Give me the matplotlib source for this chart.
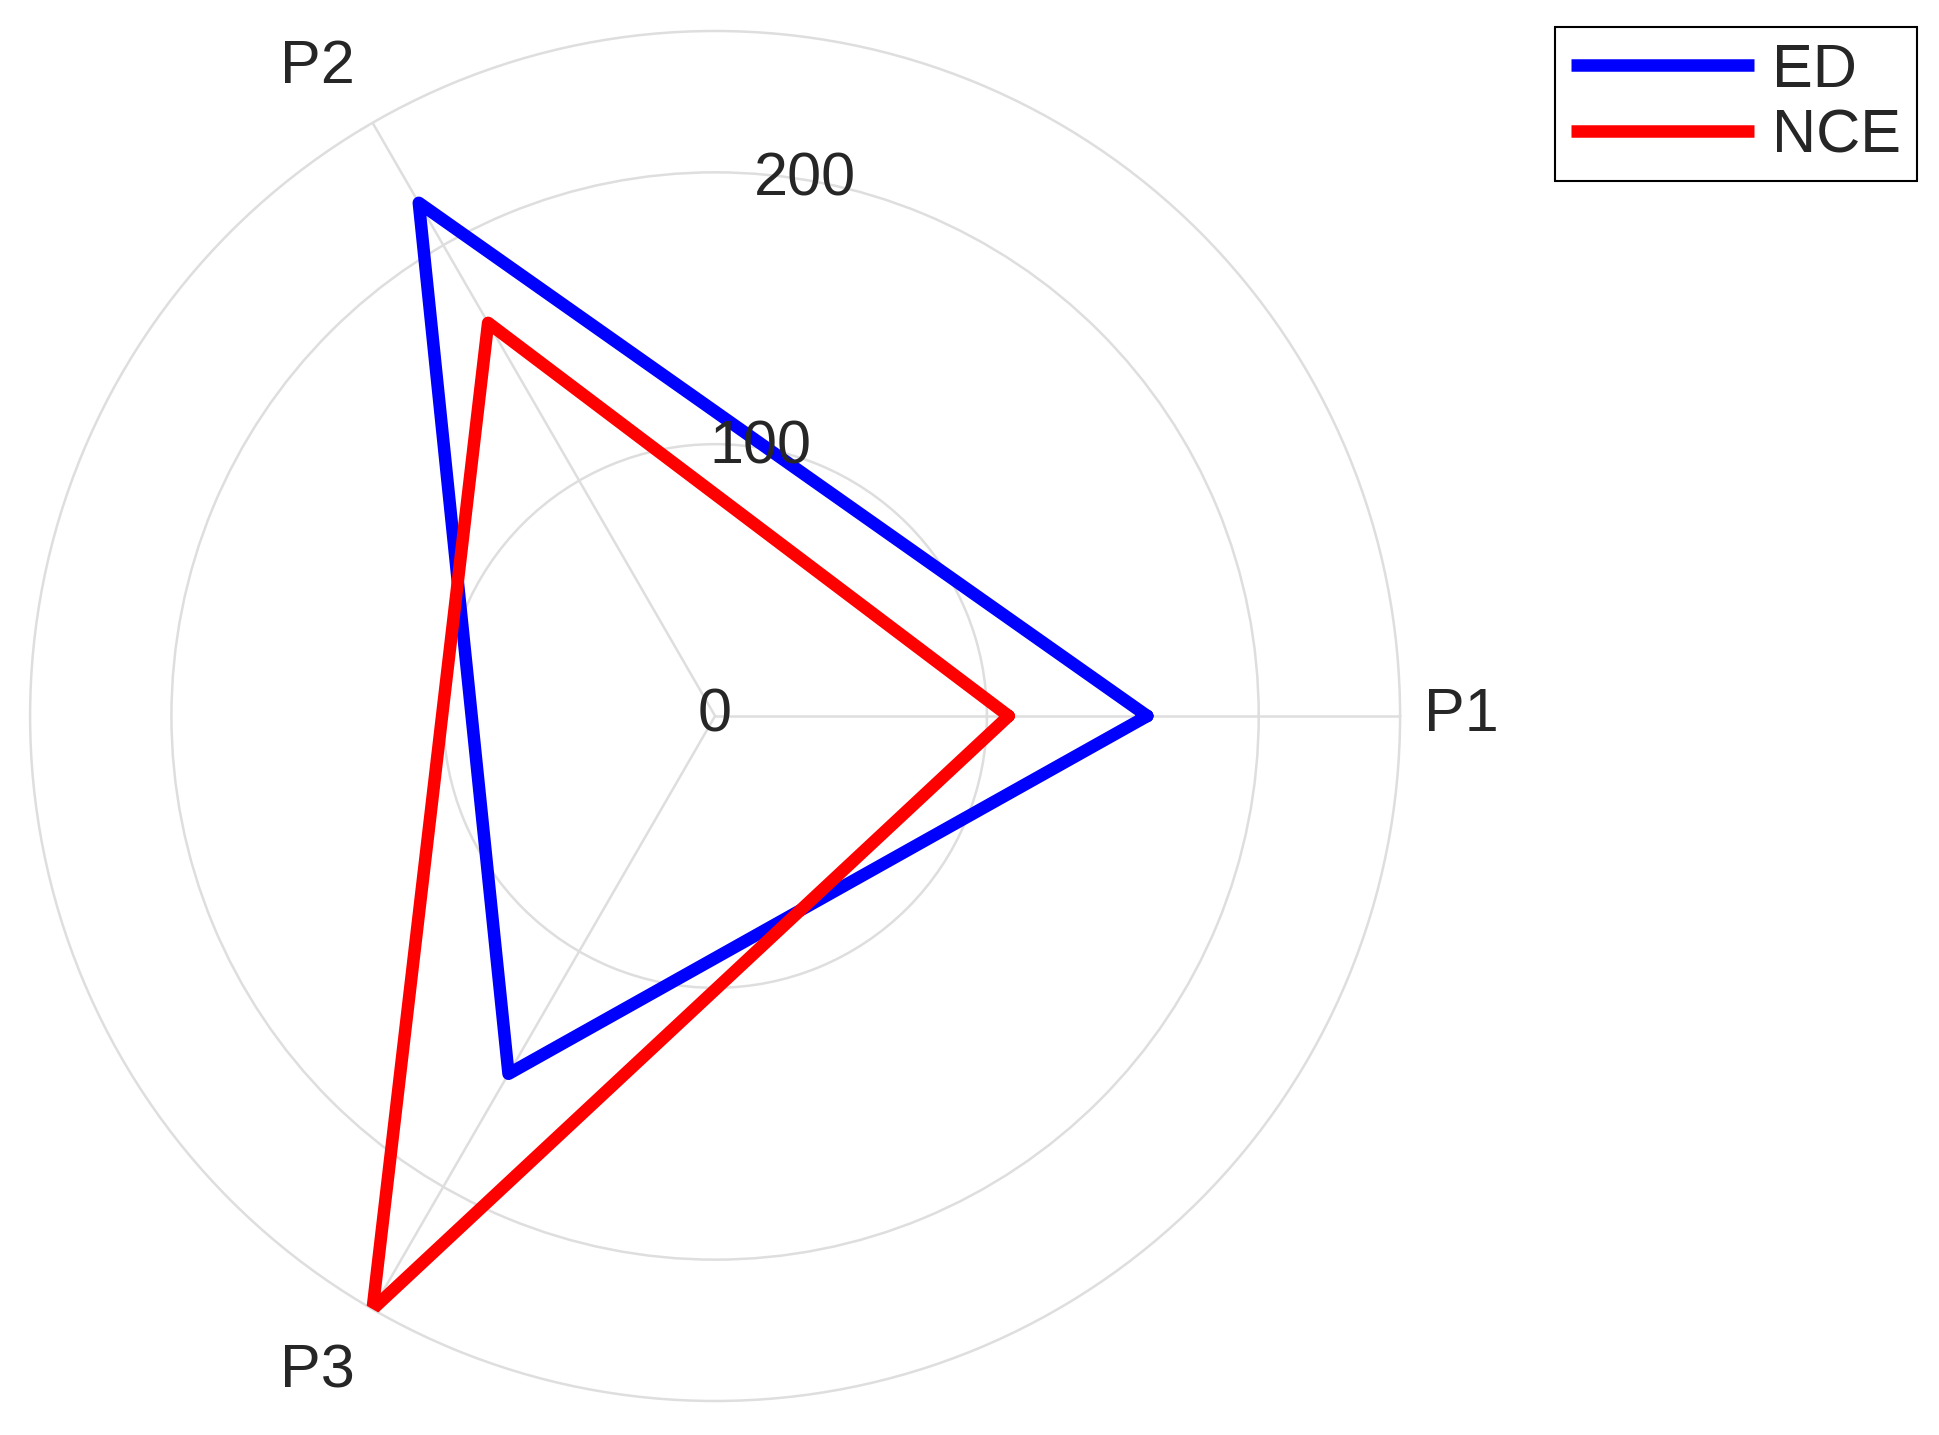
import numpy as np
import matplotlib
matplotlib.use('Agg')
import matplotlib.pyplot as plt

plt.rcParams['font.family'] = ['Liberation Sans', 'DejaVu Sans']

# values
categories = ['P1', 'P2', 'P3']
ed_values = [159, 218, 152]
nce_values = [108, 167, 252]
r_ticks = [0, 100, 200]
r_max = 252

text_color = '#262626'
grid_color = '#dedede'
fs = 44

angles = np.deg2rad([0, 120, 240])
# close the polygon
theta_closed = np.append(angles, angles[0])
ed_closed = ed_values + ed_values[:1]
nce_closed = nce_values + nce_values[:1]

fig = plt.figure(figsize=(19.4, 14.35), dpi=100)
ax = fig.add_axes([0.0155, 0.0237, 0.7062, 0.9547], projection='polar')

ax.plot(theta_closed, ed_closed, color='#0000ff', lw=9, label='ED',
        solid_joinstyle='round', solid_capstyle='round', zorder=3)
ax.plot(theta_closed, nce_closed, color='#ff0000', lw=9, label='NCE',
        solid_joinstyle='round', solid_capstyle='round', zorder=3)

ax.set_ylim(0, r_max)
ax.set_yticks(r_ticks[1:])
ax.set_yticklabels([])
ax.set_xticks(angles)
ax.set_xticklabels([])
ax.grid(True, color=grid_color, lw=1.8)
ax.spines['polar'].set_color(grid_color)
ax.spines['polar'].set_linewidth(1.8)
ax.tick_params(length=0)

# radial labels along the 80 degree line
for r in r_ticks:
    if r == 0:
        ax.text(0, 0, '0', ha='center', va='center', fontsize=fs, color=text_color)
    else:
        ax.text(np.deg2rad(80.5), r, str(r), ha='center', va='center',
                fontsize=fs, color=text_color)

# angular labels just outside the outer ring
label_pos = [(0, 1.09), (121.5, 1.11), (238.8, 1.12)]
for (ang, f), lab in zip(label_pos, categories):
    ax.text(np.deg2rad(ang), r_max * f, lab, ha='center', va='center',
            fontsize=fs, color=text_color, clip_on=False)

leg = fig.legend(loc='upper right', bbox_to_anchor=(0.988, 0.981), fontsize=fs,
                 handlelength=3.0, handletextpad=0.3, borderpad=0.25,
                 labelspacing=0.15, fancybox=False, framealpha=1,
                 edgecolor='black', borderaxespad=0)
leg.get_frame().set_linewidth(1.5)
for t in leg.get_texts():
    t.set_color(text_color)
for ln in leg.get_lines():
    ln.set_solid_capstyle('butt')

fig.savefig('out.png', dpi=100)
